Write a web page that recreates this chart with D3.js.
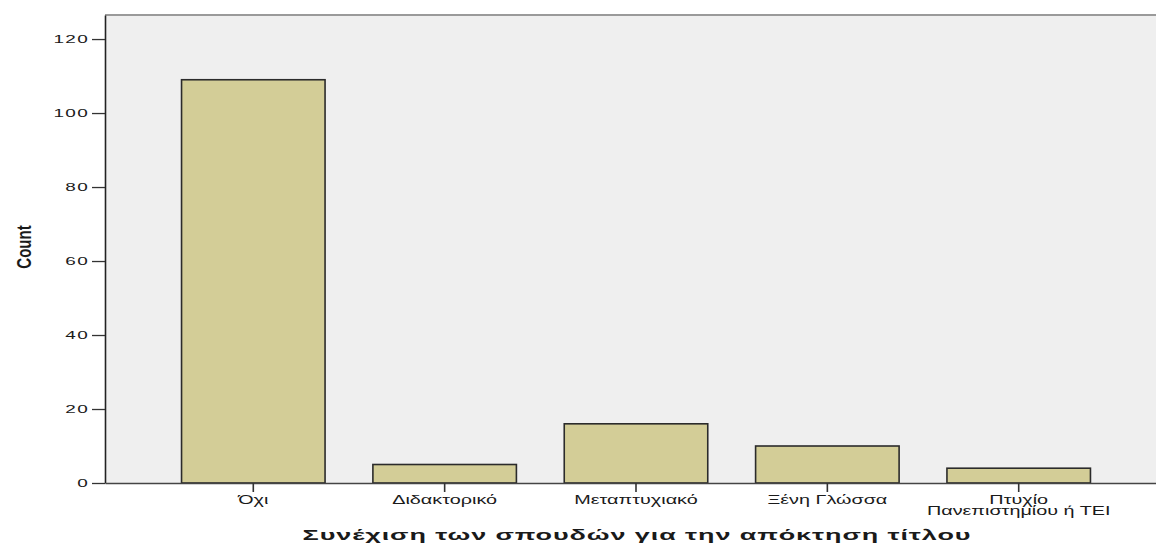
<!DOCTYPE html>
<html>
<head>
<meta charset="utf-8">
<script src="https://cdn.jsdelivr.net/npm/d3@7"></script>
<style>
  html, body { margin: 0; padding: 0; background: #ffffff; }
  svg { display: block; }
  text { font-family: "Liberation Sans", Arial, sans-serif; fill: #1a1a1a; }
</style>
</head>
<body>
<svg id="chart" width="1156" height="544"></svg>
<script>
// Counts per answer category
const categories = ["Όχι", "Διδακτορικό", "Μεταπτυχιακό", "Ξένη Γλώσσα", "Πτυχίο\nΠανεπιστημίου ή ΤΕΙ"];
const counts = [109, 5, 16, 10, 4];
const yTicks = [0, 20, 40, 60, 80, 100, 120];
const yMax = 126.5;
const xTitle = "Συνέχιση των σπουδών για την απόκτηση τίτλου";
const yTitle = "Count";

const W = 1156, H = 544;
const plot = { left: 105, top: 15, right: 1167, bottom: 483 };
const stretch = 1.65; // horizontal stretch applied to all lettering

const svg = d3.select("#chart");

const x = d3.scaleBand()
  .domain(categories)
  .range([plot.left, plot.right])
  .paddingInner(0.25)
  .paddingOuter(0.4);

const y = d3.scaleLinear()
  .domain([0, yMax])
  .range([plot.bottom, plot.top]);

// plot background
svg.append("rect")
  .attr("x", plot.left).attr("y", plot.top)
  .attr("width", plot.right - plot.left)
  .attr("height", plot.bottom - plot.top)
  .attr("fill", "#efefef");

// top frame line
svg.append("line")
  .attr("x1", plot.left).attr("x2", plot.right)
  .attr("y1", plot.top).attr("y2", plot.top)
  .attr("stroke", "#9a9a9a").attr("stroke-width", 2);

// bars
svg.append("g").selectAll("rect")
  .data(categories)
  .join("rect")
  .attr("x", d => x(d))
  .attr("width", x.bandwidth())
  .attr("y", (d, i) => y(counts[i]))
  .attr("height", (d, i) => y(0) - y(counts[i]))
  .attr("fill", "#d3cd97")
  .attr("stroke", "#2b2b2b")
  .attr("stroke-width", 1.6);

// y axis
const yAxis = svg.append("g")
  .attr("transform", `translate(${plot.left},0)`)
  .call(d3.axisLeft(y).tickValues(yTicks).tickSize(13).tickPadding(3).tickSizeOuter(0));
yAxis.select(".domain").attr("stroke", "#222").attr("stroke-width", 1.6);
yAxis.selectAll(".tick line").attr("stroke", "#333").attr("stroke-width", 1.3);
yAxis.selectAll(".tick text")
  .attr("font-size", 11.5)
  .attr("font-family", "Liberation Sans, Arial, sans-serif")
  .attr("fill", "#1a1a1a")
  .attr("letter-spacing", 0.8)
  .attr("x", -16 / stretch)
  .attr("transform", `scale(${stretch},1)`);

// x axis baseline and ticks
const xAxis = svg.append("g")
  .attr("transform", `translate(0,${plot.bottom})`)
  .call(d3.axisBottom(x).tickSize(9).tickSizeOuter(0).tickFormat(""));
xAxis.select(".domain").attr("stroke", "#444").attr("stroke-width", 1.4);
xAxis.selectAll(".tick line").attr("stroke", "#333").attr("stroke-width", 1.6);

// category labels (multi-line where needed)
const catLabels = svg.append("g");
categories.forEach(c => {
  const lines = c.split("\n");
  const t = catLabels.append("text")
    .attr("transform", `translate(${x(c) + x.bandwidth() / 2},504) scale(${stretch},1)`)
    .attr("text-anchor", "middle")
    .attr("font-size", 12)
    .attr("fill", "#1a1a1a");
  lines.forEach((ln, i) => {
    t.append("tspan").attr("x", 0).attr("dy", i === 0 ? 0 : 11).text(ln);
  });
});

// axis titles
svg.append("text")
  .attr("transform", `translate(637,540) scale(1.8,1)`)
  .attr("text-anchor", "middle")
  .attr("font-size", 15)
  .attr("font-weight", "bold")
  .attr("letter-spacing", 0.5)
  .attr("fill", "#111")
  .text(xTitle);

svg.append("text")
  .attr("transform", `translate(31,247) rotate(-90) scale(1,1.35)`)
  .attr("text-anchor", "middle")
  .attr("font-size", 15)
  .attr("font-weight", "bold")
  .attr("fill", "#111")
  .text(yTitle);
</script>
</body>
</html>
